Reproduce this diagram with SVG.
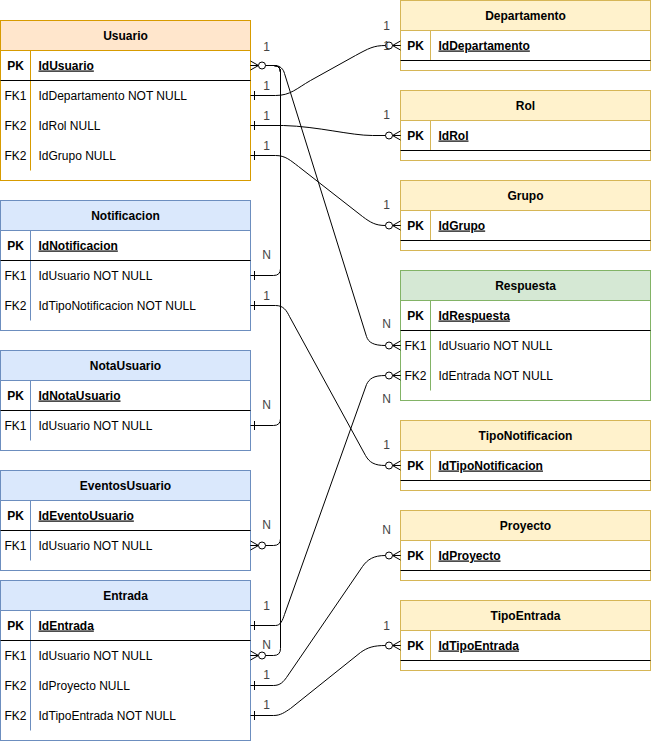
<svg xmlns="http://www.w3.org/2000/svg" width="651" height="741" viewBox="0 0 651 741">
<style>
text{font-family:"Liberation Sans",Arial,Helvetica,sans-serif;font-size:12px;fill:#000}
.hd{font-weight:bold;text-anchor:middle}
.k{text-anchor:middle}
.kb{font-weight:bold;text-anchor:middle}
.pk{font-weight:bold;text-decoration:underline}
.lbl{fill:#444;text-anchor:middle}
.cn{fill:none;stroke:#000;stroke-width:1}
.sep{stroke:#000;stroke-width:1}
.body{fill:#fff}
.or rect,.or line.div{stroke:#d79b00}
.or rect.h{fill:#ffe6cc}
.bl rect,.bl line.div{stroke:#6c8ebf}
.bl rect.h{fill:#dae8fc}
.ye rect,.ye line.div{stroke:#d6b656}
.ye rect.h{fill:#fff2cc}
.gr rect,.gr line.div{stroke:#82b366}
.gr rect.h{fill:#d5e8d4}
</style>
<defs>
<marker id="zm" viewBox="-17 -7 18 14" refX="0" refY="0" markerWidth="18" markerHeight="14" markerUnits="userSpaceOnUse" orient="auto-start-reverse">
<path d="M0,-4.5 L-8,0 L0,4.5 M-8,0 H0" fill="none" stroke="#000" stroke-width="1"/>
<circle cx="-11.5" cy="0" r="3.5" fill="#fff" stroke="#000" stroke-width="1"/>
</marker>
<marker id="one" viewBox="-8 -7 9 14" refX="0" refY="0" markerWidth="9" markerHeight="14" markerUnits="userSpaceOnUse" orient="auto-start-reverse">
<path d="M-4,-4.5 V4.5" stroke="#000" stroke-width="1"/>
</marker>
</defs>
<g transform="translate(0.5,0.5)">

<g id="usuario" class="or">
<rect class="body" x="0" y="20" width="250" height="160"/>
<rect class="h" x="0" y="20" width="250" height="30"/>
<line class="div" x1="30" y1="50" x2="30" y2="170"/>
<line class="sep" x1="0" y1="80" x2="250" y2="80"/>
<text class="hd" x="125" y="39">Usuario</text>
<text class="kb" x="15" y="69">PK</text><text class="pk" x="38" y="69">IdUsuario</text>
<text class="k" x="15" y="99">FK1</text><text x="38" y="99">IdDepartamento NOT NULL</text>
<text class="k" x="15" y="129">FK2</text><text x="38" y="129">IdRol NULL</text>
<text class="k" x="15" y="159">FK2</text><text x="38" y="159">IdGrupo NULL</text>
</g>

<g id="notificacion" class="bl">
<rect class="body" x="0" y="200" width="250" height="130"/>
<rect class="h" x="0" y="200" width="250" height="30"/>
<line class="div" x1="30" y1="230" x2="30" y2="320"/>
<line class="sep" x1="0" y1="260" x2="250" y2="260"/>
<text class="hd" x="125" y="219">Notificacion</text>
<text class="kb" x="15" y="249">PK</text><text class="pk" x="38" y="249">IdNotificacion</text>
<text class="k" x="15" y="279">FK1</text><text x="38" y="279">IdUsuario NOT NULL</text>
<text class="k" x="15" y="309">FK2</text><text x="38" y="309">IdTipoNotificacion NOT NULL</text>
</g>

<g id="notausuario" class="bl">
<rect class="body" x="0" y="350" width="250" height="100"/>
<rect class="h" x="0" y="350" width="250" height="30"/>
<line class="div" x1="30" y1="380" x2="30" y2="440"/>
<line class="sep" x1="0" y1="410" x2="250" y2="410"/>
<text class="hd" x="125" y="369">NotaUsuario</text>
<text class="kb" x="15" y="399">PK</text><text class="pk" x="38" y="399">IdNotaUsuario</text>
<text class="k" x="15" y="429">FK1</text><text x="38" y="429">IdUsuario NOT NULL</text>
</g>

<g id="eventosusuario" class="bl">
<rect class="body" x="0" y="470" width="250" height="100"/>
<rect class="h" x="0" y="470" width="250" height="30"/>
<line class="div" x1="30" y1="500" x2="30" y2="560"/>
<line class="sep" x1="0" y1="530" x2="250" y2="530"/>
<text class="hd" x="125" y="489">EventosUsuario</text>
<text class="kb" x="15" y="519">PK</text><text class="pk" x="38" y="519">IdEventoUsuario</text>
<text class="k" x="15" y="549">FK1</text><text x="38" y="549">IdUsuario NOT NULL</text>
</g>

<g id="entrada" class="bl">
<rect class="body" x="0" y="580" width="250" height="160"/>
<rect class="h" x="0" y="580" width="250" height="30"/>
<line class="div" x1="30" y1="610" x2="30" y2="730"/>
<line class="sep" x1="0" y1="640" x2="250" y2="640"/>
<text class="hd" x="125" y="599">Entrada</text>
<text class="kb" x="15" y="629">PK</text><text class="pk" x="38" y="629">IdEntrada</text>
<text class="k" x="15" y="659">FK1</text><text x="38" y="659">IdUsuario NOT NULL</text>
<text class="k" x="15" y="689">FK2</text><text x="38" y="689">IdProyecto NULL</text>
<text class="k" x="15" y="719">FK2</text><text x="38" y="719">IdTipoEntrada NOT NULL</text>
</g>

<g id="departamento" class="ye">
<rect class="body" x="400" y="0" width="250" height="70"/>
<rect class="h" x="400" y="0" width="250" height="30"/>
<line class="div" x1="430" y1="30" x2="430" y2="60"/>
<line class="sep" x1="400" y1="60" x2="650" y2="60"/>
<text class="hd" x="525" y="19">Departamento</text>
<text class="kb" x="415" y="49">PK</text><text class="pk" x="438" y="49">IdDepartamento</text>
</g>

<g id="rol" class="ye">
<rect class="body" x="400" y="90" width="250" height="70"/>
<rect class="h" x="400" y="90" width="250" height="30"/>
<line class="div" x1="430" y1="120" x2="430" y2="150"/>
<line class="sep" x1="400" y1="150" x2="650" y2="150"/>
<text class="hd" x="525" y="109">Rol</text>
<text class="kb" x="415" y="139">PK</text><text class="pk" x="438" y="139">IdRol</text>
</g>

<g id="grupo" class="ye">
<rect class="body" x="400" y="180" width="250" height="70"/>
<rect class="h" x="400" y="180" width="250" height="30"/>
<line class="div" x1="430" y1="210" x2="430" y2="240"/>
<line class="sep" x1="400" y1="240" x2="650" y2="240"/>
<text class="hd" x="525" y="199">Grupo</text>
<text class="kb" x="415" y="229">PK</text><text class="pk" x="438" y="229">IdGrupo</text>
</g>

<g id="respuesta" class="gr">
<rect class="body" x="400" y="270" width="250" height="130"/>
<rect class="h" x="400" y="270" width="250" height="30"/>
<line class="div" x1="430" y1="300" x2="430" y2="390"/>
<line class="sep" x1="400" y1="330" x2="650" y2="330"/>
<text class="hd" x="525" y="289">Respuesta</text>
<text class="kb" x="415" y="319">PK</text><text class="pk" x="438" y="319">IdRespuesta</text>
<text class="k" x="415" y="349">FK1</text><text x="438" y="349">IdUsuario NOT NULL</text>
<text class="k" x="415" y="379">FK2</text><text x="438" y="379">IdEntrada NOT NULL</text>
</g>

<g id="tiponotificacion" class="ye">
<rect class="body" x="400" y="420" width="250" height="70"/>
<rect class="h" x="400" y="420" width="250" height="30"/>
<line class="div" x1="430" y1="450" x2="430" y2="480"/>
<line class="sep" x1="400" y1="480" x2="650" y2="480"/>
<text class="hd" x="525" y="439">TipoNotificacion</text>
<text class="kb" x="415" y="469">PK</text><text class="pk" x="438" y="469">IdTipoNotificacion</text>
</g>

<g id="proyecto" class="ye">
<rect class="body" x="400" y="510" width="250" height="70"/>
<rect class="h" x="400" y="510" width="250" height="30"/>
<line class="div" x1="430" y1="540" x2="430" y2="570"/>
<line class="sep" x1="400" y1="570" x2="650" y2="570"/>
<text class="hd" x="525" y="529">Proyecto</text>
<text class="kb" x="415" y="559">PK</text><text class="pk" x="438" y="559">IdProyecto</text>
</g>

<g id="tipoentrada" class="ye">
<rect class="body" x="400" y="600" width="250" height="70"/>
<rect class="h" x="400" y="600" width="250" height="30"/>
<line class="div" x1="430" y1="630" x2="430" y2="660"/>
<line class="sep" x1="400" y1="660" x2="650" y2="660"/>
<text class="hd" x="525" y="619">TipoEntrada</text>
<text class="kb" x="415" y="649">PK</text><text class="pk" x="438" y="649">IdTipoEntrada</text>
</g>

<g id="connectors">
<path class="cn" d="M250,275 H273 Q280,275 280,268 V72 Q280,65 273,65 H266" marker-start="url(#one)"/>
<path class="cn" d="M250,425 H273 Q280,425 280,418 V72 Q280,65 273,65 H266" marker-start="url(#one)"/>
<path class="cn" d="M250,545 H273 Q280,545 280,538 V72 Q280,65 273,65 H266" marker-start="url(#zm)"/>
<path class="cn" d="M250,655 H273 Q280,655 280,648 V72 Q280,65 273,65 H266" marker-start="url(#zm)"/>
<path class="cn" d="M250,65 H274 C280,65 283,69 284,73 L366,336 C368,342 373,345 385,345 H400" marker-start="url(#zm)" marker-end="url(#zm)"/>
<path class="cn" d="M250,95 H275 C290,95 296,88 310,80 L355,55 C368,48 373,45 385,45 H400" marker-start="url(#one)" marker-end="url(#zm)"/>
<path class="cn" d="M250,125 H283 C318,126 350,135 372,135 H400" marker-start="url(#one)" marker-end="url(#zm)"/>
<path class="cn" d="M250,155 H275 C285,155 290,160 298,166 L362,216 C370,222 375,225 385,225 H400" marker-start="url(#one)" marker-end="url(#zm)"/>
<path class="cn" d="M250,305 H275 C283,305 286,310 289,316 L365,455 C369,462 374,465 385,465 H400" marker-start="url(#one)" marker-end="url(#zm)"/>
<path class="cn" d="M250,625 H275 C280,625 282,620 284,614 L366,384 C369,378 373,375 385,375 H400" marker-start="url(#one)" marker-end="url(#zm)"/>
<path class="cn" d="M250,685 H273 C280,685 283,681 286,677 L362,566 C367,559 373,555 385,555 H400" marker-start="url(#one)" marker-end="url(#zm)"/>
<path class="cn" d="M250,715 H273 C280,715 284,712 290,708 L360,652 C367,647 373,645 385,645 H400" marker-start="url(#one)" marker-end="url(#zm)"/>

<text class="lbl" x="266" y="50">1</text>
<text class="lbl" x="266" y="89">1</text>
<text class="lbl" x="266" y="119">1</text>
<text class="lbl" x="266" y="149">1</text>
<text class="lbl" x="266" y="258">N</text>
<text class="lbl" x="266" y="299">1</text>
<text class="lbl" x="266" y="408">N</text>
<text class="lbl" x="266" y="528">N</text>
<text class="lbl" x="266" y="609">1</text>
<text class="lbl" x="266" y="648">N</text>
<text class="lbl" x="266" y="678">1</text>
<text class="lbl" x="266" y="708">1</text>
<text class="lbl" x="386" y="29">1</text>
<text class="lbl" x="386" y="49">1</text>
<text class="lbl" x="386" y="118">1</text>
<text class="lbl" x="386" y="208">1</text>
<text class="lbl" x="386" y="327">N</text>
<text class="lbl" x="386" y="402">N</text>
<text class="lbl" x="386" y="448">1</text>
<text class="lbl" x="386" y="533">N</text>
<text class="lbl" x="386" y="629">1</text>
</g>
</g>
</svg>
